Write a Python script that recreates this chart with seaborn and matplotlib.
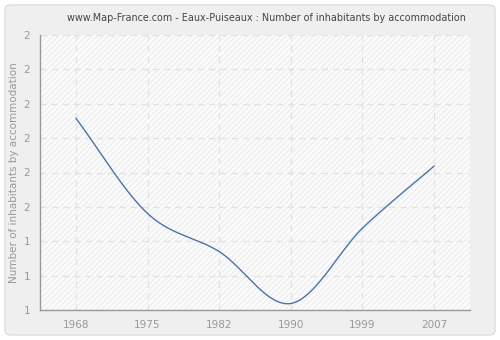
import numpy as np
import pandas as pd
import matplotlib
matplotlib.use("Agg")
import matplotlib.pyplot as plt
import seaborn as sns
from matplotlib.patches import FancyBboxPatch, Rectangle
from matplotlib.ticker import FixedLocator, FuncFormatter

years = ["1968", "1975", "1982", "1990", "1999", "2007"]
values = [1.758, 1.481, 1.370, 1.219, 1.438, 1.619]
y_ticks = [1.2, 1.3, 1.4, 1.5, 1.6, 1.7, 1.8, 1.9, 2.0]


def smooth(x, y, xs):
    # Catmull-Rom style cubic Hermite curve through the data points
    x = np.asarray(x, float); y = np.asarray(y, float)
    n = len(x); h = np.diff(x); d = np.diff(y) / h
    m = np.zeros(n)
    m[1:-1] = (y[2:] - y[:-2]) / (x[2:] - x[:-2])
    m[0] = d[0]; m[-1] = d[-1]
    out = np.empty_like(xs)
    for i, xv in enumerate(xs):
        k = min(max(np.searchsorted(x, xv) - 1, 0), n - 2)
        t = (xv - x[k]) / h[k]
        h00 = 2*t**3 - 3*t**2 + 1; h10 = t**3 - 2*t**2 + t
        h01 = -2*t**3 + 3*t**2; h11 = t**3 - t**2
        out[i] = h00*y[k] + h10*h[k]*m[k] + h01*y[k+1] + h11*h[k]*m[k+1]
    return out


idx = np.arange(len(years))
xs = np.linspace(0, len(years) - 1, 400)
df = pd.DataFrame({"x": xs, "y": smooth(idx, values, xs)})

sns.set_style("white")
plt.rcParams["font.family"] = ["DejaVu Sans"]
plt.rcParams["hatch.color"] = "#e6e6e6"
plt.rcParams["hatch.linewidth"] = 0.6

fig = plt.figure(figsize=(5, 3.4), dpi=100)
fig.patch.set_facecolor("white")
bg = FancyBboxPatch((5 / 500, 5 / 340), 490 / 500, 330 / 340,
                    boxstyle="round,pad=0,rounding_size=0.012",
                    transform=fig.transFigure, facecolor="#efefef",
                    edgecolor="#dddddd", linewidth=1, zorder=-10)
fig.patches.append(bg)

ax = fig.add_axes([40 / 500, 30 / 340, 430 / 500, 275 / 340])
ax.set_zorder(1)
ax.set_facecolor("#fbfbfb")
ax.add_patch(Rectangle((0, 0), 1, 1, transform=ax.transAxes, facecolor="none",
                       hatch="//////", edgecolor="#e8e8e8", linewidth=0, zorder=0))

sns.lineplot(data=df, x="x", y="y", ax=ax, color="#4a74aa", linewidth=1.0, zorder=3)

ax.set_xlim(-0.5, len(years) - 0.5)
ax.set_ylim(1.2, 2.0)
ax.set_xticks(idx)
ax.set_xticklabels(years)
ax.yaxis.set_major_locator(FixedLocator(y_ticks))
ax.yaxis.set_major_formatter(FuncFormatter(lambda v, p: str(int(np.floor(v + 0.5 + 1e-9)))))
ax.grid(True, color="#e2e2e2", linestyle=(0, (5, 4)), linewidth=0.9)
ax.set_axisbelow(True)
for s in ["top", "right"]:
    ax.spines[s].set_visible(False)
for s in ["left", "bottom"]:
    ax.spines[s].set_color("#999999")
    ax.spines[s].set_linewidth(1.0)
ax.tick_params(axis="both", colors="#999999", labelcolor="#999999", labelsize=7.5,
               length=4, width=1, direction="out", pad=3)
ax.set_xlabel("")
ax.set_ylabel("Number of inhabitants by accommodation", color="#999999", fontsize=7.5, labelpad=3)

fig.text(266 / 500, 1 - 18 / 340,
         "www.Map-France.com - Eaux-Puiseaux : Number of inhabitants by accommodation",
         ha="center", va="center", fontsize=6.9, color="#444444")

fig.savefig("out.png", dpi=100, facecolor=fig.get_facecolor())
